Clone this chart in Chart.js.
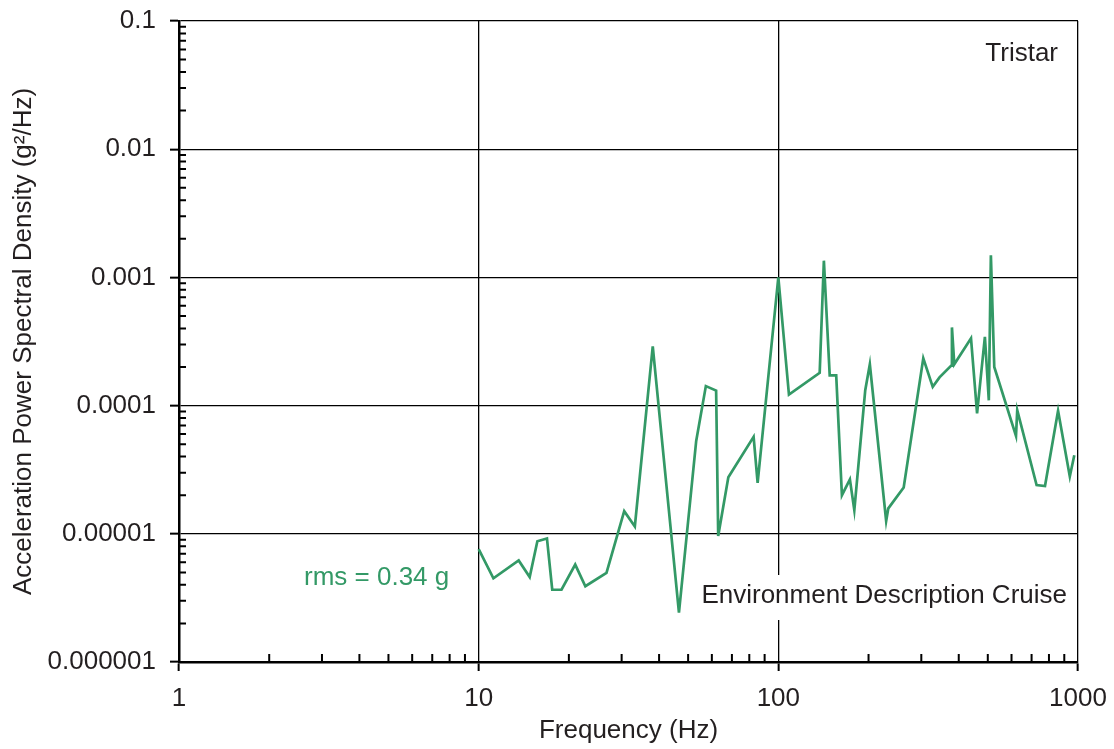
<!DOCTYPE html>
<html>
<head>
<meta charset="utf-8">
<script src="https://cdn.jsdelivr.net/npm/chart.js@4"></script>
<style>
  html, body { margin: 0; padding: 0; background: #fff; }
  #wrap { width: 1114px; height: 749px; }
</style>
</head>
<body>
<div id="wrap"><canvas id="psd"></canvas></div>
<script>
// values
const freq = [10, 11.2, 13.6, 14.8, 15.7, 16.9, 17.6, 18.9, 21, 22.7, 26.7, 30.6, 33.2, 38.1, 46.6,
    53.2, 57.3, 62, 63, 68.1, 82.7, 85.3, 100, 108.5, 137.4, 141.9, 148.4, 156, 163, 173.3, 179.3,
    195, 202, 229, 232.8, 262, 304.6, 327.5, 345, 377.6, 379.6, 386.5, 439.5, 460.5, 489, 504, 512,
    525.5, 621, 627, 727.5, 776, 858, 939, 972];
const psd = [7.6e-6, 4.5e-6, 6.2e-6, 4.6e-6, 8.75e-6, 9.2e-6, 3.66e-6, 3.66e-6, 5.75e-6, 3.9e-6,
    4.95e-6, 1.5e-5, 1.14e-5, 2.9e-4, 2.43e-6, 5.3e-5, 1.42e-4, 1.31e-4, 9.6e-6, 2.76e-5, 5.7e-5,
    2.5e-5, 1.0e-3, 1.22e-4, 1.8e-4, 1.35e-3, 1.72e-4, 1.72e-4, 2.0e-5, 2.66e-5, 1.53e-5, 1.32e-4,
    2.1e-4, 1.26e-5, 1.58e-5, 2.3e-5, 2.34e-4, 1.4e-4, 1.66e-4, 2.05e-4, 4.07e-4, 2.1e-4, 3.35e-4,
    8.7e-5, 3.44e-4, 1.1e-4, 1.49e-3, 2.0e-4, 5.8e-5, 9.2e-5, 2.4e-5, 2.36e-5, 9.1e-5, 2.8e-5, 4.1e-5];

const xTicks = [1, 10, 100, 1000];
const xTickLabels = ['1', '10', '100', '1000'];
const yTicks = [0.000001, 0.00001, 0.0001, 0.001, 0.01, 0.1];
const yTickLabels = ['0.000001', '0.00001', '0.0001', '0.001', '0.01', '0.1'];

const green = '#339966';
const ink = '#231f20';
const font = { family: 'Liberation Sans, Arial, sans-serif', size: 26 };

// inward minor ticks on the two axes
const minorTicks = {
    id: 'minorTicks',
    afterDraw(chart) {
        const ctx = chart.ctx;
        const xs = chart.scales.x, ys = chart.scales.y;
        const area = chart.chartArea;
        ctx.save();
        ctx.strokeStyle = '#000';
        ctx.lineWidth = 2;
        ctx.beginPath();
        for (let d = 1; d < 1000; d *= 10) {
            for (let k = 2; k <= 9; k++) {
                const px = xs.getPixelForValue(k * d);
                ctx.moveTo(px, area.bottom);
                ctx.lineTo(px, area.bottom - 8);
            }
        }
        for (let d = 0.000001; d < 0.099; d *= 10) {
            for (let k = 2; k <= 9; k++) {
                const py = ys.getPixelForValue(k * d);
                ctx.moveTo(area.left, py);
                ctx.lineTo(area.left + 7, py);
            }
        }
        ctx.stroke();
        ctx.restore();
    }
};

// text boxes inside the plot
const notes = {
    id: 'notes',
    beforeDatasetsDraw(chart) {
        const ctx = chart.ctx;
        const a = chart.chartArea;
        ctx.save();
        ctx.font = '26px ' + font.family;
        ctx.textBaseline = 'middle';

        ctx.fillStyle = ink;
        ctx.textAlign = 'right';
        ctx.fillText('Tristar', a.right - 20, 54);

        const env = 'Environment Description Cruise';
        const w = ctx.measureText(env).width;
        ctx.fillStyle = '#fff';
        ctx.fillRect(a.right - 12 - w - 6, 575, w + 12, 45);
        ctx.fillStyle = ink;
        ctx.fillText(env, a.right - 11, 596);

        ctx.fillStyle = green;
        ctx.textAlign = 'left';
        ctx.fillText('rms = 0.34 g', 304, 578);
        ctx.restore();
    }
};

new Chart(document.getElementById('psd'), {
    type: 'scatter',
    data: {
        datasets: [{
            data: freq.map((f, i) => ({ x: f, y: psd[i] })),
            showLine: true,
            borderColor: green,
            borderWidth: 2.7,
            pointRadius: 0,
            tension: 0
        }]
    },
    options: {
        responsive: true,
        maintainAspectRatio: false,
        animation: false,
        events: [],
        layout: { autoPadding: false, padding: { top: 21, right: 36, bottom: 0, left: 0 } },
        plugins: { legend: { display: false }, tooltip: { enabled: false } },
        scales: {
            x: {
                type: 'logarithmic',
                min: 1, max: 1000,
                afterBuildTicks: s => { s.ticks = xTicks.map(v => ({ value: v })); },
                afterFit: s => { s.height = 87; s.paddingLeft = 0; s.paddingRight = 0; },
                ticks: {
                    autoSkip: false, maxRotation: 0, color: ink, font: font, padding: 12,
                    callback: (v) => xTickLabels[xTicks.indexOf(v)]
                },
                grid: { color: '#000', lineWidth: 1.3, tickLength: 9, tickColor: '#000', tickWidth: 2 },
                border: { color: '#000', width: 2.5 },
                title: { display: true, text: 'Frequency (Hz)', color: ink, font: font, padding: { top: 0, bottom: 3 } }
            },
            y: {
                type: 'logarithmic',
                min: 0.000001, max: 0.1,
                afterBuildTicks: s => { s.ticks = yTicks.map(v => ({ value: v })); },
                afterFit: s => { s.width = 179; s.paddingTop = 0; s.paddingBottom = 0; },
                ticks: {
                    autoSkip: false, color: ink, font: font, padding: 14,
                    callback: (v) => yTickLabels[yTicks.indexOf(v)]
                },
                grid: { color: '#000', lineWidth: 1.3, tickLength: 9, tickColor: '#000', tickWidth: 2 },
                border: { color: '#000', width: 2.5 },
                title: { display: true, text: 'Acceleration Power Spectral Density (g²/Hz)', color: ink, font: font, padding: { top: 8, bottom: 0 } }
            }
        }
    },
    plugins: [minorTicks, notes]
});
</script>
</body>
</html>
